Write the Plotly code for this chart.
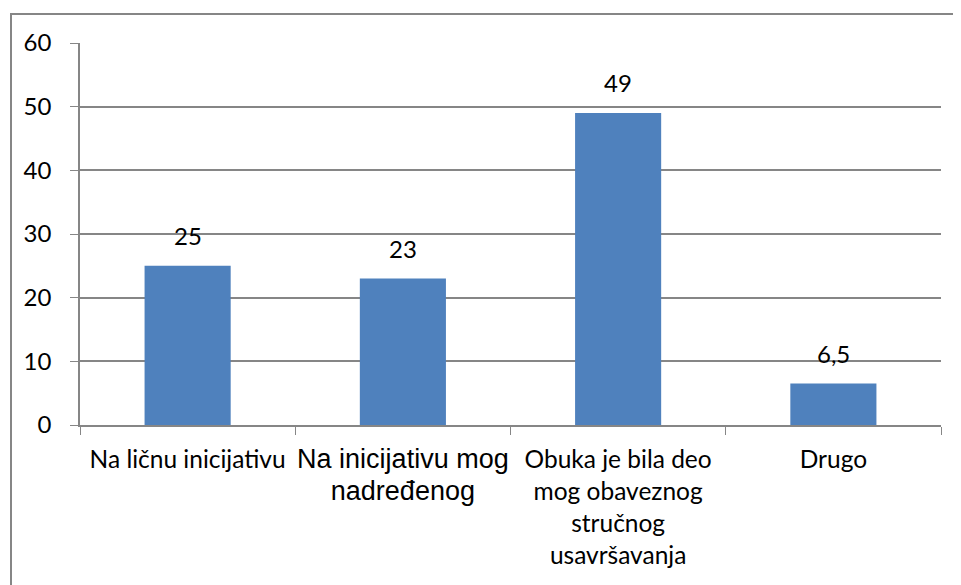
import plotly.graph_objects as go

categories = ["Na ličnu inicijativu", "Na inicijativu mog nadređenog",
              "Obuka je bila deo mog obaveznog stručnog usavršavanja", "Drugo"]
tick_labels = [
    "Na ličnu inicijativu",
    '<span style="font-family:\'Liberation Sans\', Arial;font-size:27px">Na inicijativu mog<br>nadređenog</span>',
    "Obuka je bila deo<br>mog obaveznog<br>stručnog<br>usavršavanja",
    "Drugo",
]
values = [25, 23, 49, 6.5]
value_labels = ["25", "23", "49", "6,5"]
y_ticks = [0, 10, 20, 30, 40, 50, 60]

GRAY = "#868686"
FONT = "Lato"

fig = go.Figure()
fig.add_trace(go.Bar(x=categories, y=values, marker=dict(color="#4F81BD", line=dict(width=0)),
                     hoverinfo="skip"))

for c, v, t in zip(categories, values, value_labels):
    fig.add_annotation(x=c, y=v, text=t, showarrow=False, yanchor="bottom", yshift=14,
                       font=dict(family=FONT, size=24, color="#000000"))

# page body has an 8px margin; figure coordinates are offset by it
OFF = 8
W, H = 961 - OFF, 585 - OFF
L = 80 - OFF
T = 43 - OFF
R = W - (941 - OFF)
B = H - (425 - OFF)
pw, ph = W - L - R, H - T - B

def px2x(px):
    return (px - OFF - L) / pw

def py2y(py):
    return 1 - (py - OFF - T) / ph

fig.add_shape(type="rect", xref="paper", yref="paper",
              x0=px2x(11), x1=px2x(975), y0=py2y(600), y1=py2y(14),
              line=dict(color=GRAY, width=2), fillcolor="rgba(0,0,0,0)", layer="below")

fig.update_layout(
    width=W, height=H,
    margin=dict(l=L, r=R, t=T, b=B),
    paper_bgcolor="white", plot_bgcolor="white",
    showlegend=False, bargap=0.6,
    font=dict(family=FONT, size=24, color="#000000"),
)
fig.update_xaxes(
    type="category", categoryorder="array", categoryarray=categories,
    tickmode="array", tickvals=categories, ticktext=tick_labels,
    tickson="boundaries", ticks="outside", ticklen=8, tickcolor=GRAY, tickwidth=1,
    showline=True, linecolor=GRAY, linewidth=1.5, showgrid=False,
    tickfont=dict(family=FONT, size=24.5, color="#000000"), tickangle=0,
    ticklabelstandoff=12,
)
fig.update_yaxes(
    range=[0, 60], tickmode="array", tickvals=y_ticks,
    ticks="outside", ticklen=8, tickcolor=GRAY, tickwidth=1,
    showline=True, linecolor=GRAY, linewidth=1.5,
    showgrid=True, gridcolor=GRAY, gridwidth=1.5, zeroline=False,
    tickfont=dict(family=FONT, size=24, color="#000000"), ticklabelstandoff=14,
)

fig.write_html("out.html")
